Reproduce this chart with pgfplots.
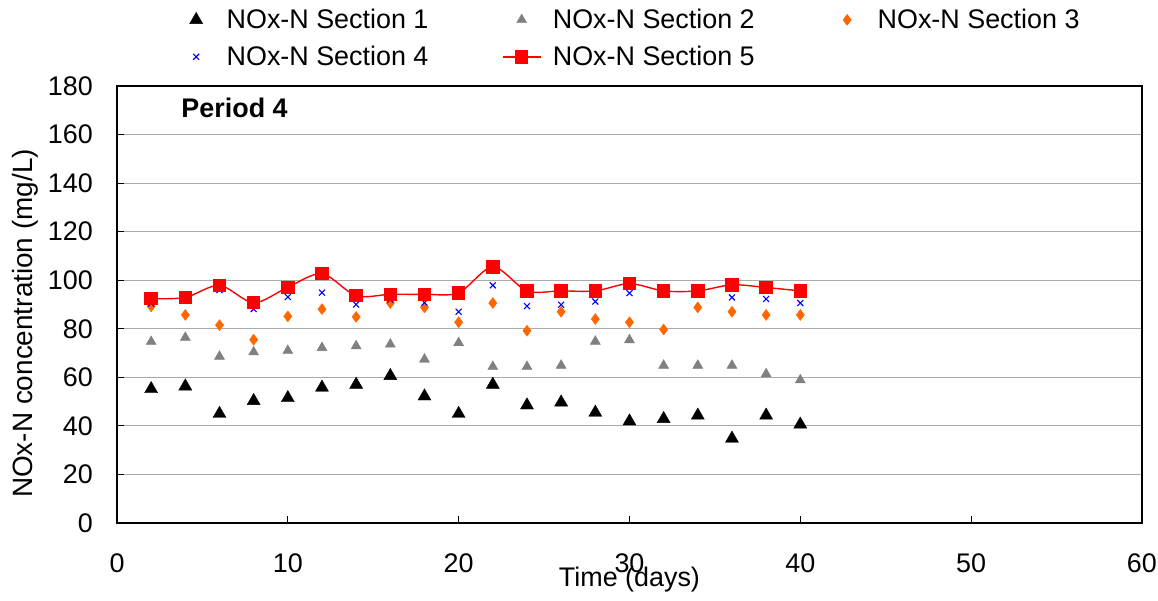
\documentclass[border=0pt]{standalone}
\usepackage{fontspec}
\setmainfont{Liberation Sans}
\usepackage{pgfplots}
\pgfplotsset{compat=1.18}
\definecolor{gridc}{RGB}{170,170,170}
\definecolor{orng}{RGB}{255,102,0}
\definecolor{grey2}{RGB}{128,128,128}
\pgfplotsset{myleg/.style={legend image code/.code={\path[draw=none,fill=none] (0bp,0bp) -- (37bp,0bp);\draw[mark repeat=2,mark phase=2,##1] plot coordinates {(0bp,0bp) (18.5bp,0bp) (37bp,0bp)};}}}
\begin{document}
\begin{tikzpicture}
\useasboundingbox (-117bp,-78bp) rectangle (1041bp,523bp);
\begin{axis}[
  at={(0,0)}, anchor=south west,
  scale only axis, width=1025bp, height=437bp,
  xmin=0, xmax=60, ymin=0, ymax=180,
  xtick={0,10,...,60}, ytick={0,20,...,180},
  tick pos=left, tick align=inside,
  major tick length=7bp,
  ymajorgrids, grid style={gridc, line width=0.8bp},
  axis line style={black, line width=1.5bp},
  tick style={black, line width=1.2bp},
  font=\fontsize{27}{32}\selectfont,
  /pgf/number format/assume math mode=true,
  xticklabel style={anchor=center, yshift=-40bp},
  yticklabel style={anchor=east, inner sep=0pt, xshift=-24bp},
  xlabel={Time (days)},
  ylabel={NOx-N concentration (mg/L)},
  xlabel style={at={(axis description cs:0.5,0)}, anchor=center, yshift=-57bp},
  ylabel style={at={(axis description cs:0,0.5)}, anchor=center, yshift=92bp, xshift=-19bp, font=\fontsize{28}{33}\selectfont},
  legend columns=3,
  legend cell align=left,
  legend style={draw=none, fill=none, at={(axis description cs:0.059,1.185)}, anchor=north west,
    font=\fontsize{27}{32}\selectfont, row sep=8bp, inner sep=0pt,
    /tikz/every even column/.append style={column sep=62bp},
    nodes={inner ysep=4bp, inner xsep=12bp}},
  myleg,
]
\addplot[only marks, myleg, mark=triangle*, mark size=7.5bp, black, mark options={fill=black}] coordinates {
(2,55.2)(4,56.3)(6,45.0)(8,50.3)(10,51.5)(12,55.8)(14,57.0)(16,60.6)(18,52.2)(20,45.0)
(22,57.0)(24,48.5)(26,49.7)(28,45.5)(30,41.9)(32,42.9)(34,44.3)(36,34.8)(38,44.3)(40,40.6)};
\addlegendentry{NOx-N Section 1}
\addplot[only marks, myleg, mark=triangle*, mark size=5.8bp, grey2, mark options={fill=grey2}] coordinates {
(2,74.7)(4,76.4)(6,68.6)(8,70.4)(10,71.0)(12,72.2)(14,72.9)(16,73.6)(18,67.4)(20,74.2)
(22,64.4)(24,64.4)(26,64.9)(28,74.8)(30,75.4)(32,64.9)(34,64.9)(36,64.9)(38,61.4)(40,58.9)};
\addlegendentry{NOx-N Section 2}
\addplot[only marks, myleg, mark=diamond*, mark size=5.5bp, orng, mark options={fill=orng}] coordinates {
(2,89.2)(4,85.7)(6,81.5)(8,75.5)(10,85.1)(12,88.1)(14,84.9)(16,90.6)(18,88.8)(20,82.7)
(22,90.6)(24,79.2)(26,87.0)(28,84.0)(30,82.7)(32,79.7)(34,88.8)(36,87.0)(38,85.7)(40,85.7)};
\addlegendentry{NOx-N Section 3}
\addplot[only marks, myleg, mark=x, mark size=4.2bp, blue, mark options={line width=1.1bp}] coordinates {
(2,90.4)(4,91.8)(6,95.9)(8,88.1)(10,93.1)(12,94.9)(14,90.0)(16,92.0)(18,90.8)(20,87.0)
(22,97.9)(24,89.3)(26,89.9)(28,91.2)(30,94.7)(32,94.5)(34,94.5)(36,92.9)(38,92.3)(40,90.6)};
\addlegendentry{NOx-N Section 4}
\addplot[red, line width=1.4bp, smooth, tension=0.5, mark=square*, mark size=6bp, mark options={fill=red, solid}] coordinates {
(2,92.4)(4,92.9)(6,97.9)(8,90.7)(10,97.1)(12,102.7)(14,93.6)(16,94.2)(18,94.2)(20,94.8)
(22,105.5)(24,95.6)(26,95.6)(28,95.6)(30,98.6)(32,95.6)(34,95.6)(36,98.1)(38,97.0)(40,95.6)};
\addlegendentry{NOx-N Section 5}
\node[anchor=west, font=\fontsize{27}{32}\selectfont\bfseries] at (rel axis cs:0.0595,0.95) {Period 4};
\end{axis}
\end{tikzpicture}
\end{document}
